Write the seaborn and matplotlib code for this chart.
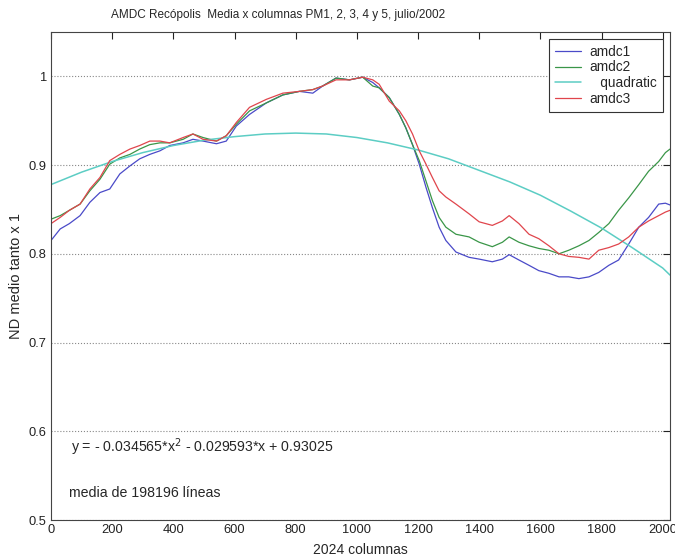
import numpy as np
import pandas as pd
import matplotlib
matplotlib.use("Agg")
import matplotlib.pyplot as plt
import seaborn as sns
from matplotlib.ticker import FuncFormatter

cols = [0, 30, 60, 95, 127, 160, 192, 225, 258, 290, 323, 356, 388, 432, 464, 497,
        541, 573, 606, 649, 704, 758, 812, 856, 888, 932, 976, 1019, 1052, 1073,
        1106, 1139, 1160, 1182, 1204, 1226, 1247, 1269, 1291, 1324, 1367, 1400,
        1443, 1476, 1498, 1530, 1563, 1595, 1628, 1661, 1693, 1726, 1759, 1791,
        1824, 1856, 1889, 1922, 1954, 1987, 2009, 2024]

amdc1 = [0.815, 0.828, 0.834, 0.843, 0.858, 0.869, 0.873, 0.890, 0.899, 0.907, 0.912,
         0.916, 0.922, 0.925, 0.929, 0.927, 0.924, 0.927, 0.944, 0.957, 0.970, 0.979,
         0.983, 0.981, 0.989, 0.998, 0.996, 0.999, 0.993, 0.987, 0.976, 0.957, 0.942,
         0.923, 0.901, 0.875, 0.852, 0.830, 0.815, 0.802, 0.796, 0.794, 0.791, 0.794,
         0.799, 0.793, 0.787, 0.781, 0.778, 0.774, 0.774, 0.772, 0.774, 0.779, 0.787,
         0.793, 0.811, 0.830, 0.841, 0.856, 0.857, 0.855]

amdc2 = [0.839, 0.843, 0.849, 0.856, 0.871, 0.884, 0.901, 0.908, 0.912, 0.918, 0.923,
         0.925, 0.925, 0.929, 0.935, 0.931, 0.927, 0.933, 0.946, 0.961, 0.970, 0.979,
         0.983, 0.985, 0.989, 0.998, 0.996, 0.999, 0.989, 0.987, 0.976, 0.957, 0.942,
         0.923, 0.905, 0.882, 0.860, 0.841, 0.830, 0.822, 0.819, 0.813, 0.808, 0.813,
         0.819, 0.813, 0.809, 0.806, 0.804, 0.800, 0.804, 0.809, 0.815, 0.824, 0.834,
         0.849, 0.863, 0.878, 0.893, 0.904, 0.914, 0.918]

amdc3 = [0.834, 0.841, 0.849, 0.856, 0.873, 0.886, 0.905, 0.912, 0.918, 0.922, 0.927,
         0.927, 0.925, 0.931, 0.935, 0.929, 0.927, 0.933, 0.948, 0.965, 0.974, 0.981,
         0.983, 0.985, 0.989, 0.996, 0.996, 0.999, 0.996, 0.991, 0.972, 0.961, 0.950,
         0.935, 0.916, 0.901, 0.886, 0.871, 0.864, 0.856, 0.845, 0.836, 0.832, 0.837,
         0.843, 0.834, 0.822, 0.817, 0.809, 0.800, 0.797, 0.796, 0.794, 0.804, 0.807,
         0.811, 0.819, 0.830, 0.837, 0.843, 0.847, 0.849]

# fitted quadratic, read every 100 columns
quad_cols = [0, 100, 200, 300, 400, 500, 600, 700, 800, 900, 1000, 1100, 1200,
             1300, 1400, 1500, 1600, 1700, 1800, 1900, 2000, 2024]
quadratic = [0.878, 0.892, 0.904, 0.914, 0.922, 0.928, 0.932, 0.935, 0.936, 0.935,
             0.931, 0.925, 0.917, 0.907, 0.894, 0.881, 0.866, 0.848, 0.829, 0.807,
             0.784, 0.776]

sns.set_theme(style="white")
plt.rcParams["font.family"] = ["Liberation Sans", "DejaVu Sans"]

fig = plt.figure(figsize=(6.75, 5.6), dpi=100)
ax = fig.add_axes([0.0756, 0.0714, 0.9170, 0.8716])

colors = {"amdc1": "#4a4ac8", "amdc2": "#3a9648", "quadratic": "#5ccdc4", "amdc3": "#e0454c"}

sns.lineplot(x=cols, y=amdc1, ax=ax, color=colors["amdc1"], lw=0.9, label="amdc1")
sns.lineplot(x=cols, y=amdc2, ax=ax, color=colors["amdc2"], lw=0.9, label="amdc2")
sns.lineplot(x=quad_cols, y=quadratic, ax=ax, color=colors["quadratic"], lw=1.1, label="   quadratic")
sns.lineplot(x=cols, y=amdc3, ax=ax, color=colors["amdc3"], lw=0.9, label="amdc3")

ax.set_xlim(0, 2024)
ax.set_ylim(0.5, 1.05)
ax.set_xticks(range(0, 2001, 200))
ax.set_yticks([0.5, 0.6, 0.7, 0.8, 0.9, 1.0])
ax.yaxis.set_major_formatter(FuncFormatter(lambda v, p: "%g" % round(v, 2)))
ax.tick_params(direction="in", top=True, right=True, length=5, width=0.8,
               labelsize=9.3, colors="#222222", pad=3)
ax.yaxis.grid(True, linestyle=":", color="#888888", lw=0.8)
ax.xaxis.grid(False)
for s in ax.spines.values():
    s.set_color("#444444")
    s.set_linewidth(0.8)

ax.set_title("AMDC Recópolis  Media x columnas PM1, 2, 3, 4 y 5, julio/2002",
             fontsize=8.5, pad=10, x=0.367)
ax.set_xlabel("2024 columnas", fontsize=10, labelpad=5)
ax.set_ylabel("ND medio tanto x 1", fontsize=10.5, labelpad=4)

ax.text(65, 0.582, "y = - 0.034565*x$^2$ - 0.029593*x + 0.93025", fontsize=10.2, va="center")
ax.text(60, 0.531, "media de 198196 líneas", fontsize=10.2, va="center")

leg = ax.legend(loc="upper right", fontsize=9.8, frameon=True, fancybox=False,
                framealpha=1, edgecolor="#333333", borderaxespad=0.5,
                handlelength=1.9, handletextpad=0.6, labelspacing=0.12,
                borderpad=0.45)
leg.get_frame().set_linewidth(0.8)

fig.savefig("out.png", dpi=100)
